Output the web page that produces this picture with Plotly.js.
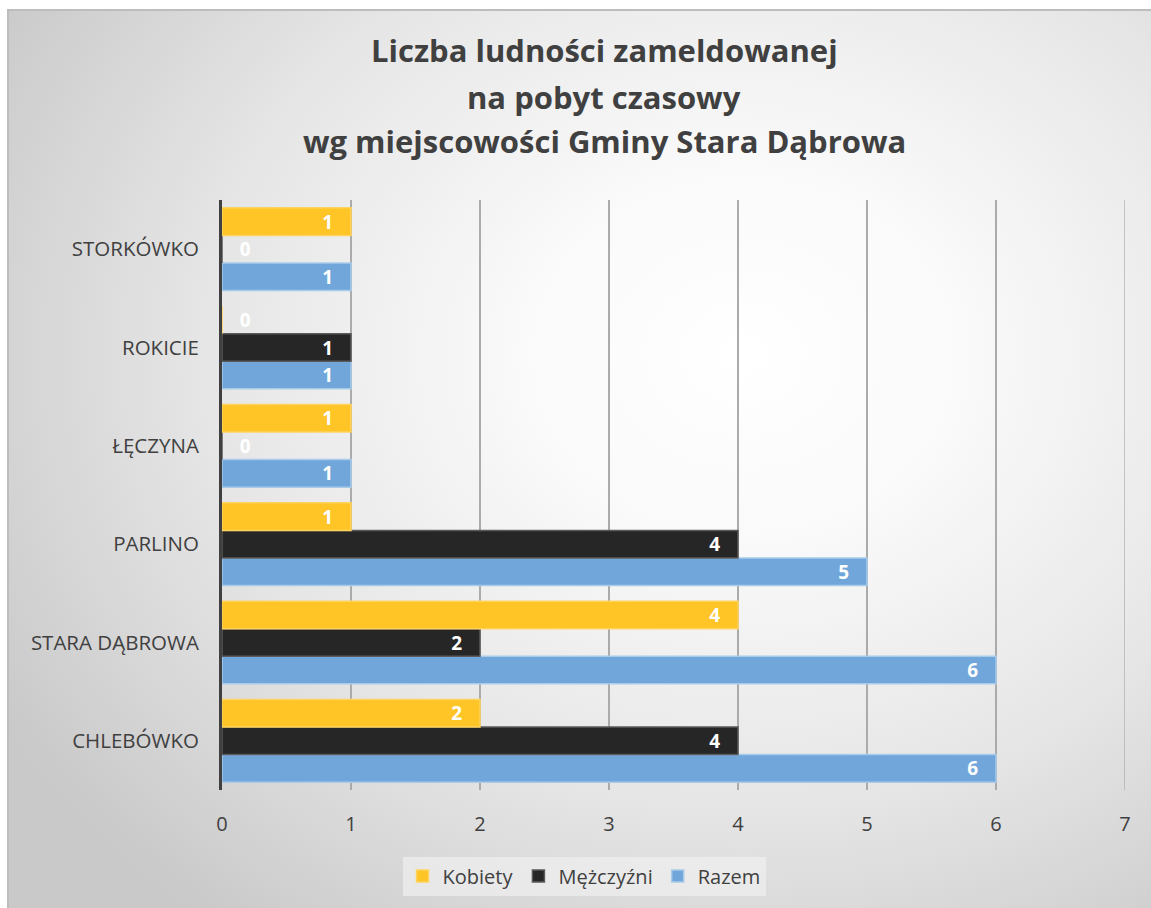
<!DOCTYPE html>
<html>
<head>
<meta charset="utf-8">
<script src="https://cdn.plot.ly/plotly-3.0.1.min.js"></script>
<style>
  html, body { margin: 0; padding: 0; background: #ffffff; width: 1151px; height: 908px; overflow: hidden; }
  #bg { position: absolute; left: 7px; top: 9px; width: 1150px; height: 905px;
        border-left: 2px solid #bdbdbd; border-top: 2px solid #bdbdbd; box-sizing: border-box;
        background: radial-gradient(ellipse 75% 80% at 64% 38%, #ffffff 0%, #fafafa 25%, #e6e6e6 62%, #c9c9c9 100%); }
  #chart { position: absolute; left: 0; top: 0; width: 1151px; height: 908px; }
</style>
</head>
<body>
<div id="bg"></div>
<div id="chart"></div>
<script>
// Categories (bottom to top as drawn)
const categories = ["CHLEBÓWKO", "STARA DĄBROWA", "PARLINO", "ŁĘCZYNA", "ROKICIE", "STORKÓWKO"];
const kobiety    = [2, 4, 1, 1, 0, 1];
const mezczyzni  = [4, 2, 4, 0, 1, 0];
const razem      = [6, 6, 5, 1, 1, 1];
const xTicks     = [0, 1, 2, 3, 4, 5, 6, 7];
const titleLines = ["Liczba ludności zameldowanej", "na pobyt czasowy", "wg miejscowości Gminy Stara Dąbrowa"];

const FONT = "'Open Sans', 'Noto Sans', sans-serif";
const TXT = "#404040";
const NB = "\u00a0";
const GRID = "#ababab";

// plot area in pixels
const W = 1151, H = 908;
const M = { l: 222, r: 26, t: 200, b: 118 };
const plotW = W - M.l - M.r, plotH = H - M.t - M.b;
const px2x = px => (px - M.l) / plotW;
const px2y = py => (H - M.b - py) / plotH;

function barTrace(name, values, color, lineColor) {
  return {
    type: "bar",
    orientation: "h",
    name: name,
    y: categories,
    x: values,
    texttemplate: values.map(v => v === 0 ? NB + NB + NB + "%{x}" : "%{x}" + NB + NB + NB),
    textposition: values.map(v => v === 0 ? "outside" : "inside"),
    insidetextanchor: "end",
    textangle: 0,
    constraintext: "none",
    cliponaxis: false,
    textfont: { family: FONT, size: 19, color: "#ffffff", weight: 700 },
    outsidetextfont: { family: FONT, size: 19, color: "#ffffff", weight: 700 },
    insidetextfont: { family: FONT, size: 19, color: "#ffffff", weight: 700 },
    marker: { color: color, line: { color: lineColor, width: 1.5 } },
    hoverinfo: "x+name"
  };
}

const data = [
  barTrace("Razem", razem, "#70A6DA", "#A9CBEA"),
  barTrace("Mężczyźni", mezczyzni, "#262626", "#5a5a5a"),
  barTrace("Kobiety", kobiety, "#FFC425", "#FFD45E")
];

const titleY = [50, 97, 141];
const annotations = titleLines.map((t, i) => ({
  text: "<b>" + t + "</b>",
  xref: "paper", yref: "paper",
  x: px2x(604), y: px2y(titleY[i]),
  xanchor: "center", yanchor: "middle",
  showarrow: false,
  font: { family: FONT, size: 31, color: TXT }
}));

const xMax = xTicks[xTicks.length - 1];

const layout = {
  width: W,
  height: H,
  paper_bgcolor: "rgba(0,0,0,0)",
  plot_bgcolor: "rgba(0,0,0,0)",
  margin: { l: M.l, r: M.r, t: M.t, b: M.b, pad: 0 },
  barmode: "group",
  bargap: 0.16,
  bargroupgap: 0,
  font: { family: FONT, color: TXT },
  annotations: annotations,
  shapes: [{
    type: "line", xref: "x", yref: "paper",
    x0: xMax, x1: xMax, y0: 0, y1: 1,
    line: { color: GRID, width: 1.3 },
    layer: "below"
  }],
  xaxis: {
    range: [0, xMax],
    tickvals: xTicks,
    ticktext: xTicks.map(String),
    showgrid: true,
    gridcolor: GRID,
    gridwidth: 1.3,
    zeroline: false,
    showline: false,
    ticks: "outside",
    ticklen: 16,
    tickcolor: "rgba(0,0,0,0)",
    tickfont: { family: FONT, size: 20, color: TXT },
    fixedrange: true
  },
  yaxis: {
    type: "category",
    categoryorder: "array",
    categoryarray: categories,
    showgrid: false,
    zeroline: false,
    showline: true,
    linecolor: "#404040",
    linewidth: 3,
    ticks: "outside",
    ticklen: 16,
    tickcolor: "rgba(0,0,0,0)",
    tickfont: { family: FONT, size: 20.5, color: TXT },
    fixedrange: true
  },
  legend: {
    orientation: "h",
    traceorder: "reversed",
    x: 584 / W,
    xref: "container",
    xanchor: "center",
    y: 1 - 876 / H,
    yref: "container",
    yanchor: "middle",
    bgcolor: "rgba(240,240,240,0.7)",
    font: { family: FONT, size: 20, color: TXT },
    itemwidth: 30
  },
  showlegend: true
};

Plotly.newPlot("chart", data, layout, { displayModeBar: false, staticPlot: true });
</script>
</body>
</html>
